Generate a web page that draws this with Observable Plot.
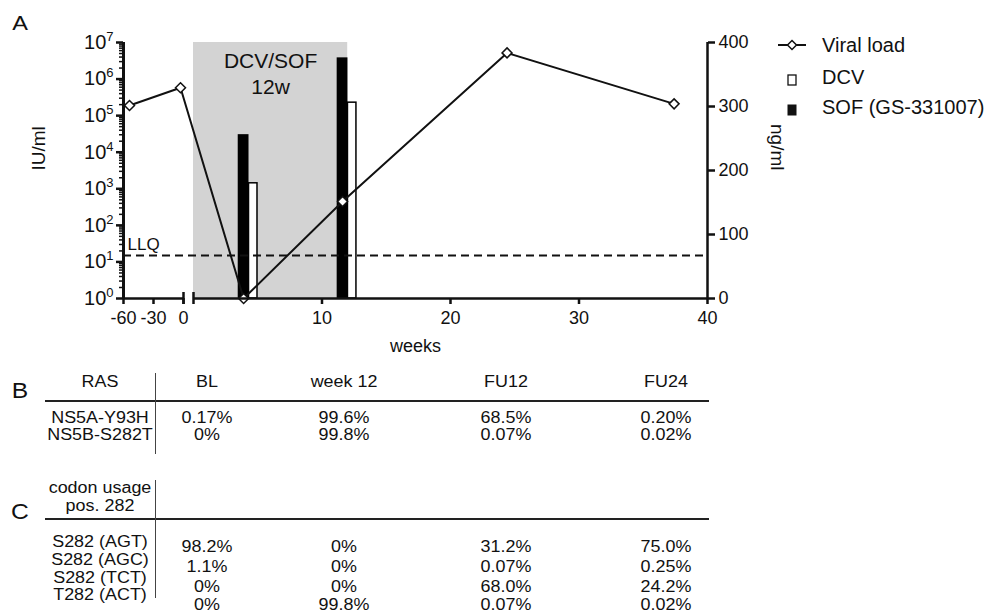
<!DOCTYPE html>
<html>
<head>
<meta charset="utf-8">
<script src="https://cdn.jsdelivr.net/npm/d3@7"></script>
<script src="https://cdn.jsdelivr.net/npm/@observablehq/plot@0.6"></script>
<style>
  body { margin: 0; background: #fff; font-family: "Liberation Sans", Arial, sans-serif; color: #111; }
  #page { position: relative; width: 999px; height: 614px; overflow: hidden; background: #fff; }
  #chart { position: absolute; left: 0; top: 0; }
  .t { position: absolute; transform: translate(-50%, -50%) scaleX(1.12); white-space: nowrap; line-height: 1; color: #111; }
  .tl { position: absolute; transform: translate(0, -50%); white-space: nowrap; line-height: 1; color: #111; }
  .ln { position: absolute; background: #222; }
</style>
</head>
<body>
<div id="page"><div id="chart"></div></div>
<script>
// ---------------- data ----------------
const vlWeeks = [-54, -3, 3.9, 11.6, 24.4, 37.4];          // viral load sampling (weeks)
const vlIU    = [1.9e5, 5.8e5, 1, 450, 5.2e6, 2.1e5];      // IU/ml
const pkWeeks = [3.9, 11.6];                               // drug level sampling (weeks)
const dcvNg   = [180, 306];                                // DCV ng/ml
const sofNg   = [256, 376];                                // SOF (GS-331007) ng/ml
const llq     = 15;                                        // lower limit of quantification IU/ml
const treatment = {start: 0, end: 12, label: "DCV/SOF\n12w"};

const leftTicks  = [1, 10, 100, 1e3, 1e4, 1e5, 1e6, 1e7];
const rightTicks = [0, 100, 200, 300, 400];
const preTicks   = [-60, -30, 0];
const onTicks    = [10, 20, 30, 40];

const rasHeader = "RAS";
const colHeads  = ["BL", "week 12", "FU12", "FU24"];
const rasRows   = ["NS5A-Y93H", "NS5B-S282T"];
const rasVals   = [["0.17%", "99.6%", "68.5%", "0.20%"],
                   ["0%", "99.8%", "0.07%", "0.02%"]];
const codonHead = ["codon usage", "pos. 282"];
const codonRows = ["S282 (AGT)", "S282 (AGC)", "S282 (TCT)", "T282 (ACT)"];
const codonVals = [["98.2%", "0%", "31.2%", "75.0%"],
                   ["1.1%", "0%", "0.07%", "0.25%"],
                   ["0%", "0%", "68.0%", "24.2%"],
                   ["0%", "99.8%", "0.07%", "0.02%"]];
const legendItems = ["Viral load", "DCV", "SOF (GS-331007)"];

// ---------------- derived ----------------
const ngToLog = d3.scaleLinear([0, 400], [0, 7]);          // right axis -> decades of left axis
const ngToIU = v => Math.pow(10, ngToLog(v));
const viral = vlWeeks.map((w, i) => ({week: w, iu: vlIU[i]}));
const pk = pkWeeks.map((w, i) => ({week: w, dcv: dcvNg[i], sof: sofNg[i]}));
const preEnd = -1e-9;                                      // end of the pre-treatment axis segment
const xSegments = [{from: -60, to: preEnd}, {from: 0, to: 40}];
const xTickVals = preTicks.map(t => t === 0 ? preEnd : t).concat(onTicks);
const minorTicks = [];
for (let e = 0; e < 7; e++) for (let m = 2; m <= 9; m++) minorTicks.push(m * Math.pow(10, e));

const FONT = '"Liberation Sans", Arial, sans-serif';

const chart = Plot.plot({
  width: 999, height: 365,
  marginLeft: 123, marginRight: 292, marginTop: 42, marginBottom: 67,
  style: {fontFamily: FONT, fontSize: "18px", color: "#111", background: "transparent", overflow: "visible"},
  x: {type: "linear", domain: [-60, 0, 0, 40], range: [123, 183, 193, 707]},
  y: {type: "log", domain: [1, 1e7], range: [298, 42]},
  marks: [
    Plot.rect([treatment], {x1: "start", x2: "end", y1: () => 1, y2: () => 1e7, fill: "#d3d3d3"}),
    Plot.text([treatment], {x: d => (d.start + d.end) / 2, frameAnchor: "top", lineAnchor: "top", dy: 8,
      text: "label", fontSize: 21, lineHeight: 1.2, fill: "#111"}),
    Plot.rect(pk, {x1: d => d.week - 0.42, x2: d => d.week + 0.42, y1: () => 1, y2: d => ngToIU(d.sof), fill: "black"}),
    Plot.rect(pk, {x1: d => d.week + 0.42, x2: d => d.week + 1.08, y1: () => 1, y2: d => ngToIU(d.dcv),
      fill: "white", stroke: "black", strokeWidth: 1.5}),
    Plot.ruleY([llq], {strokeDasharray: "8,5", strokeWidth: 2.2, stroke: "#111"}),
    Plot.text([llq], {y: d => d, frameAnchor: "left", dx: 4, dy: -11, text: () => "LLQ", textAnchor: "start", fontSize: 17, fill: "#111"}),
    Plot.line(viral, {x: "week", y: "iu", stroke: "#111", strokeWidth: 2}),
    Plot.dot(viral, {x: "week", y: "iu", symbol: "diamond2", r: 4.5, fill: "white", stroke: "#111", strokeWidth: 1.5}),
    // axes
    Plot.ruleX([-60], {strokeWidth: 3, stroke: "#111"}),
    Plot.ruleX([40], {strokeWidth: 2.5, stroke: "#111"}),
    Plot.ruleY(xSegments, {y: () => 1, x1: "from", x2: "to", strokeWidth: 2.5, stroke: "#111"}),
    Plot.ruleX([preEnd, 0], {y1: () => 1, y2: () => 1, insetTop: -6, insetBottom: -6, strokeWidth: 2.5, stroke: "#111"}),
    Plot.axisY(minorTicks, {anchor: "left", tickSize: 4, strokeWidth: 1.5, tickFormat: () => "", label: null}),
    Plot.axisY(leftTicks, {anchor: "left", tickSize: 7, tickPadding: 3, strokeWidth: 2.5, fontSize: 20,
      tickFormat: d => "10^" + Math.round(Math.log10(d)), label: null}),
    Plot.axisY(rightTicks.map(ngToIU), {anchor: "right", tickSize: 7, strokeWidth: 2.5, tickFormat: () => "", label: null}),
    Plot.text(rightTicks, {y: d => ngToIU(d), frameAnchor: "right", dx: 11, textAnchor: "start", text: d => String(d), fontSize: 18, fill: "#111"}),
    Plot.axisX(xTickVals, {anchor: "bottom", tickSize: 6, tickPadding: 7, strokeWidth: 2.5, fontSize: 18,
      tickFormat: d => d === preEnd ? "0" : String(d), label: null}),
    Plot.text(["weeks"], {frameAnchor: "bottom", dy: 53, text: d => d, fontSize: 18, fill: "#111"}),
    Plot.text(["IU/ml"], {frameAnchor: "left", dx: -85, rotate: -90, text: d => d, fontSize: 19, fill: "#111"}),
    Plot.text(["ng/ml"], {frameAnchor: "right", dx: 70, rotate: 90, text: d => d, fontSize: 19, fill: "#111"})
  ]
});

// superscript exponents on the log axis
chart.querySelectorAll("text").forEach(t => {
  const m = /^10\^(\d+)$/.exec(t.textContent);
  if (m) {
    t.textContent = "10";
    const ts = document.createElementNS("http://www.w3.org/2000/svg", "tspan");
    ts.setAttribute("font-size", "13");
    ts.setAttribute("dy", "-8");
    ts.textContent = m[1];
    t.appendChild(ts);
  }
});
document.getElementById("chart").appendChild(chart);

// ---------------- HTML annotations: panel letters, legend, tables ----------------
const page = document.getElementById("page");
function put(txt, x, y, size, cls = "t") {
  const d = document.createElement("div");
  d.className = cls; d.textContent = txt;
  d.style.left = x + "px"; d.style.top = y + "px"; d.style.fontSize = size + "px";
  page.appendChild(d);
  return d;
}
function line(x, y, w, h, color = "#222") {
  const d = document.createElement("div");
  d.className = "ln";
  Object.assign(d.style, {left: x + "px", top: y + "px", width: w + "px", height: h + "px", background: color});
  page.appendChild(d);
}
function sym(html, x, y, w, h) {
  const d = document.createElement("div");
  d.style.position = "absolute"; d.style.left = x + "px"; d.style.top = y + "px";
  d.innerHTML = `<svg width="${w}" height="${h}">${html}</svg>`;
  page.appendChild(d);
}

put("A", 20, 22, 21, "t");
put("B", 20, 391, 22, "t");
put("C", 20, 512, 22, "t");

// legend
const legY = [45, 77, 107];
sym('<line x1="1" y1="7" x2="29" y2="7" stroke="#111" stroke-width="2"/><path d="M15 2.5 L19.5 7 L15 11.5 L10.5 7 Z" fill="white" stroke="#111" stroke-width="1.5"/>', 777, legY[0] - 7, 30, 14);
sym('<rect x="1" y="1" width="8" height="10" fill="white" stroke="#111" stroke-width="1.3"/>', 787, legY[1] - 5, 10, 12);
sym('<rect x="0.5" y="0.5" width="9" height="11" fill="#111"/>', 787, legY[2] - 5, 10, 12);
legendItems.forEach((s, i) => put(s, 822, legY[i], 20, "tl"));

// tables
const colX = [207, 344, 506, 666];
const labX = 100;
const TS = 16;
// B
put(rasHeader, labX, 382, TS);
colHeads.forEach((h, j) => put(h, colX[j], 382, TS));
line(45, 400, 664, 2, "#222");
line(155, 373, 1.3, 81, "#444");
const rasY = [418, 435];
rasRows.forEach((r, i) => {
  put(r, labX, rasY[i], TS);
  rasVals[i].forEach((v, j) => put(v, colX[j], rasY[i], TS));
});
// C
put(codonHead[0], labX, 488, TS);
put(codonHead[1], labX, 506, TS);
line(45, 518, 664, 2, "#222");
line(155, 480, 1.3, 118, "#444");
const codLabY = [542, 560, 578, 595];
const codValY = [547, 567, 587, 605];
codonRows.forEach((r, i) => {
  put(r, labX, codLabY[i], TS);
  codonVals[i].forEach((v, j) => put(v, colX[j], codValY[i], TS));
});
</script>
</body>
</html>
